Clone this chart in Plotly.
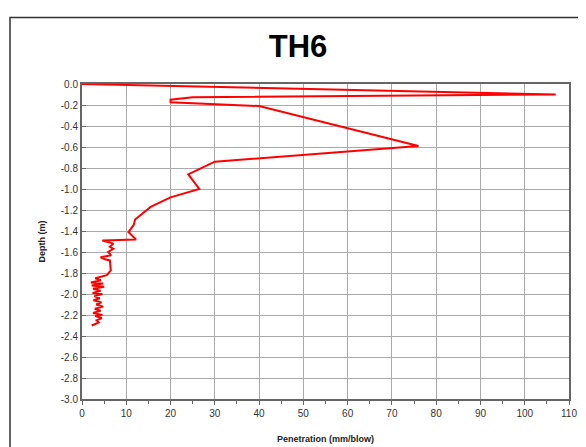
import plotly.graph_objects as go

# Data: penetration (mm/blow) vs depth (m)
penetration = [0, 107, 25, 20, 20, 40, 76, 30, 24, 26.5, 20, 15.5, 12, 11.7, 10.5, 12.2, 4.6,
               7.1, 6.3, 7.1, 5.9, 6.6, 4.2, 5.2, 6.3, 6.5, 5.6, 4.6,
               3.0, 4.3, 2.0, 4.8, 2.2, 5.0, 2.5, 4.2, 2.4, 4.6, 2.8, 4.0, 2.6, 4.4,
               3.2, 4.8, 2.9, 4.2, 2.5, 4.6, 3.0, 4.5, 3.3, 3.8, 2.2]
depth = [0.0, -0.10, -0.126, -0.15, -0.173, -0.21, -0.59, -0.74, -0.86, -1.0, -1.08, -1.17,
         -1.29, -1.34, -1.41, -1.48, -1.49,
         -1.52, -1.55, -1.57, -1.60, -1.63, -1.65, -1.67, -1.68, -1.775, -1.82, -1.83,
         -1.85, -1.87, -1.89, -1.90, -1.92, -1.93, -1.95, -1.97, -1.99, -2.00, -2.02, -2.04,
         -2.06, -2.08, -2.10, -2.12, -2.14, -2.16, -2.18, -2.20, -2.21, -2.23, -2.25, -2.27, -2.30]

y_tick_vals = [0.0, -0.2, -0.4, -0.6, -0.8, -1.0, -1.2, -1.4, -1.6, -1.8, -2.0, -2.2, -2.4,
               -2.6, -2.8, -3.0]
y_tick_text = ["0.0", "-0.2", "-0.4", "-0.6", "-0.8", "-1.0", "-1.2", "-1.4", "-1.6", "-1.8",
               "-2.0", "-2.2", "-2.4", "-2.6", "-2.8", "-3.0"]
x_tick_vals = [0, 10, 20, 30, 40, 50, 60, 70, 80, 90, 100, 110]

fig = go.Figure()
fig.add_trace(go.Scatter(x=penetration, y=depth, mode="lines",
                         line=dict(color="#ff0000", width=2), showlegend=False))

# page body has an 8px default margin; lay out in shifted coordinates
OFF = 8
W, H = 586, 447
L, T = 82 - OFF, 84 - OFF
pw, ph = 487, 317
R = W - L - pw
B = H - T - ph

def px(xp):
    return (xp - OFF - L) / pw

def py(yp):
    return (H - B - (yp - OFF)) / ph

fig.update_layout(
    width=W, height=H,
    margin=dict(l=L, r=R, t=T, b=B),
    paper_bgcolor="white", plot_bgcolor="white",
    font=dict(family="Liberation Sans, Arial, sans-serif", color="#333333"),
    title=dict(text="<b>TH6</b>", x=(298 - OFF) / W, xanchor="center", xref="container",
               y=1 - (46 - OFF) / H, yanchor="middle", yref="container",
               font=dict(size=31, color="#000000")),
    xaxis=dict(range=[0, 110], tickvals=x_tick_vals, showgrid=True, gridcolor="#aaaaaa",
               gridwidth=1, showline=True, linecolor="#666666", linewidth=2, mirror=True,
               ticks="outside", ticklen=4, tickcolor="#666666",
               minor=dict(dtick=5, ticks="outside", ticklen=3, tickcolor="#666666", showgrid=False),
               zeroline=False, tickfont=dict(size=10, color="#333333"),
               title=dict(text="<b>Penetration (mm/blow)</b>", font=dict(size=9, color="#222222"),
                          standoff=18)),
    yaxis=dict(range=[-3, 0], tickvals=y_tick_vals, ticktext=y_tick_text, showgrid=True,
               gridcolor="#aaaaaa", gridwidth=1, showline=True, linecolor="#666666",
               linewidth=2, mirror=True, ticks="inside", ticklen=4, tickcolor="#666666",
               zeroline=False, tickfont=dict(size=10, color="#333333"),
               title=dict(text="<b>Depth (m)</b>", font=dict(size=9, color="#222222"),
                          standoff=14)),
)

fig.add_shape(type="rect", xref="paper", yref="paper",
              x0=px(10), x1=px(585), y0=py(470), y1=py(17),
              line=dict(color="#333333", width=1.5), fillcolor="rgba(0,0,0,0)", layer="below")

fig.write_html("out.html")
